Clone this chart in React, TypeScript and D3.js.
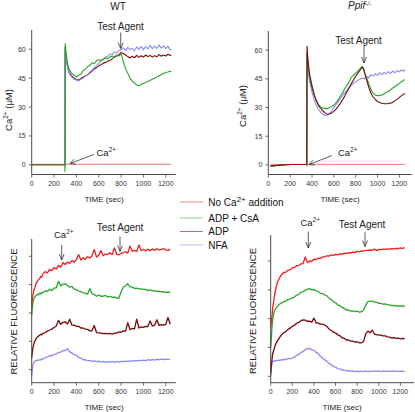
import React from 'react';
import * as d3 from 'd3';

type Pt = [number, number];

const FONT = "Arial, 'Liberation Sans', sans-serif";
const SERIES_NAMES = ['No Ca2+ addition', 'ADP + CsA', 'ADP', 'NFA'];
const SERIES_COLORS = ['#f01e1e', '#2aa52a', '#760808', '#8a8af2'];
const TIME_TICKS = [0, 200, 400, 600, 800, 1000, 1200];
const CA_TICKS = [0, 15, 30, 45, 60];
const FL_TICKS = [1, 2, 3, 4, 5];

// ---------- Top panels: Ca2+ (µM) vs time ----------
const WT_CA_RED: Pt[] = [[0, 0.3], [600, 0.3], [1250, 0.3]];
const WT_CA_GREEN: Pt[] = [[0, 0.1], [296, 0.1], [298, -3.5], [300, 63], [305, 60], [310, 57], [320, 53], [330, 50.5], [340, 49], [360, 47.5], [380, 46.5], [400, 45.5], [420, 46.5], [440, 47], [460, 49], [480, 49.5], [500, 51], [520, 51.5], [540, 53], [560, 52.5], [580, 54], [600, 54.5], [620, 54], [640, 55], [660, 55.5], [680, 55], [700, 56], [720, 56.5], [740, 56], [760, 57], [780, 56.5], [800, 57.5], [810, 56], [820, 53.5], [840, 50], [860, 47.5], [880, 45], [900, 43.5], [920, 42.5], [940, 41.5], [960, 41], [980, 41.8], [1000, 42.4], [1020, 42.8], [1040, 43.3], [1060, 43.8], [1080, 44.5], [1100, 45], [1120, 45.6], [1140, 46.2], [1160, 46.8], [1180, 47.4], [1200, 47.9], [1220, 48.2], [1240, 48.6], [1250, 48.4]];
const WT_CA_BROWN: Pt[] = [[0, 0.1], [296, 0.1], [298, 0], [300, 61], [305, 58], [310, 55], [320, 51.5], [330, 49], [340, 47.5], [360, 46], [380, 45], [400, 44.3], [420, 44], [440, 44.8], [460, 45.5], [480, 46.2], [500, 46.7], [520, 47.8], [540, 48.6], [560, 49.8], [580, 50.5], [600, 51.4], [620, 52], [640, 52.8], [660, 53.2], [680, 53.8], [700, 54.2], [720, 55], [740, 55.8], [760, 56.5], [780, 57.2], [800, 58.3], [820, 57.8], [840, 57], [860, 56.2], [880, 55.5], [900, 56.4], [920, 55.6], [940, 56.8], [960, 55.8], [980, 56.6], [1000, 56], [1020, 57], [1040, 56.2], [1060, 56.8], [1080, 55.9], [1100, 56.7], [1120, 56.1], [1140, 57.2], [1160, 56.4], [1180, 57], [1200, 56.5], [1220, 57.4], [1240, 56.8], [1250, 57]];
const WT_CA_BLUE: Pt[] = [[0, 0.1], [296, 0.1], [297, 0], [298, 60.5], [305, 57.5], [310, 55], [320, 51], [330, 48.5], [340, 47], [360, 45.5], [380, 44.5], [400, 44], [420, 43.5], [440, 44.5], [460, 45], [480, 46], [500, 46.7], [520, 48.2], [540, 49], [560, 50.5], [580, 51.5], [600, 52.7], [620, 54], [640, 54.6], [660, 56], [680, 56.3], [700, 57.5], [720, 57.2], [740, 58.6], [760, 58], [780, 59.4], [800, 59.7], [820, 60.8], [840, 59.3], [860, 61], [880, 59.8], [900, 60.6], [920, 59.2], [940, 61.2], [960, 60], [980, 61.5], [1000, 59.8], [1020, 61.4], [1040, 60.2], [1060, 62], [1080, 60.3], [1100, 61.6], [1120, 60.5], [1140, 62.2], [1160, 60.6], [1180, 61.8], [1200, 60.4], [1220, 61.5], [1240, 59.8], [1250, 59.7]];

const PPIF_CA_RED: Pt[] = [[20, 0.3], [600, 0.3], [1250, 0.3]];
const PPIF_CA_GREEN: Pt[] = [[20, -0.5], [200, 0.2], [352, 0.3], [354, -0.5], [355, 58], [360, 54], [370, 49], [380, 45], [400, 40], [420, 36.5], [440, 33.5], [460, 31.5], [480, 30.3], [500, 29.5], [520, 29.6], [540, 29.4], [560, 30], [580, 30.5], [600, 31.2], [620, 32.6], [640, 34.2], [660, 36], [680, 37.8], [700, 39.8], [720, 41.6], [740, 43.4], [760, 45.8], [780, 47], [800, 48], [820, 49], [840, 50.5], [860, 51.5], [870, 50.5], [880, 48.5], [900, 45.5], [920, 42.5], [940, 39.5], [960, 37.5], [980, 36.5], [1000, 36.2], [1020, 36.3], [1040, 36.6], [1060, 37.2], [1080, 37.8], [1100, 38.5], [1120, 39.3], [1140, 40.2], [1160, 41], [1180, 41.8], [1200, 42.6], [1220, 43.5], [1240, 44.3], [1250, 44.6]];
const PPIF_CA_BROWN: Pt[] = [[20, -0.6], [100, -0.1], [200, 0.2], [352, 0.3], [355, 62], [360, 57], [370, 51], [380, 47], [400, 41.5], [420, 37], [440, 33.5], [460, 31], [480, 29.5], [500, 28.2], [520, 27.2], [540, 26.5], [560, 26.6], [580, 27.2], [600, 28], [620, 29.2], [640, 30.6], [660, 32.2], [680, 34], [700, 36], [720, 38.2], [740, 40.2], [760, 42.5], [780, 44.4], [800, 46.5], [820, 48], [840, 49.5], [860, 51], [870, 50.5], [880, 48.5], [900, 44.5], [920, 40.5], [940, 37.5], [960, 35.5], [980, 34.2], [1000, 33.2], [1020, 32.6], [1040, 32.2], [1060, 32], [1080, 32], [1100, 32.1], [1120, 32.3], [1140, 32.8], [1160, 33.6], [1180, 34.4], [1200, 35.3], [1220, 36.2], [1240, 37], [1250, 37.3]];
const PPIF_CA_BLUE: Pt[] = [[20, -0.5], [200, 0.2], [352, 0.3], [355, 59], [360, 53], [370, 47], [380, 43], [400, 38], [420, 34], [440, 31], [460, 29], [480, 27.5], [500, 26.5], [520, 25.8], [540, 26], [560, 26.8], [580, 28.2], [600, 30], [620, 31.5], [640, 33.2], [660, 34.8], [680, 36.4], [700, 37.8], [720, 39], [740, 40.5], [760, 41.6], [780, 42.6], [800, 43.5], [820, 44.2], [840, 44.8], [860, 45.3], [880, 45], [900, 46.3], [920, 45.6], [940, 47.2], [960, 46.4], [980, 47.6], [1000, 46.8], [1020, 48.2], [1040, 47.2], [1060, 48.4], [1080, 47.6], [1100, 48.8], [1120, 47.8], [1140, 49], [1160, 48.2], [1180, 49.4], [1200, 48.6], [1220, 49.6], [1240, 49], [1250, 50]];

// ---------- Bottom panels: relative fluorescence vs time ----------
const FL_TIME = [0, 5, 10, 15, 20, 30, 40, 50, 60, 70, 80, 90, ...d3.range(100, 1260, 20)];

const WT_FL_RED = [3.27, 3.48, 3.62, 3.70, 3.82, 3.90, 4.06, 4.10, 4.18, 4.20, 4.29, 4.27,
  4.38, 4.46, 4.41, 4.54, 4.49, 4.60, 4.55, 4.68, 4.61, 4.78,
  4.71, 4.80, 4.75, 4.85, 4.79, 4.88, 5.06, 4.87, 4.95, 4.89,
  4.99, 4.94, 5.02, 5.24, 4.97, 5.04, 5.20, 5.02, 5.08, 5.06,
  5.12, 5.06, 5.30, 5.07, 5.05, 5.10, 5.13, 5.16, 5.11, 5.36,
  5.18, 5.21, 5.17, 5.40, 5.20, 5.24, 5.19, 5.25, 5.20, 5.26,
  5.21, 5.27, 5.22, 5.24, 5.27, 5.23, 5.21, 5.25];
const WT_FL_GREEN = [2.92, 3.15, 3.35, 3.45, 3.50, 3.58, 3.62, 3.66, 3.64, 3.70, 3.67, 3.73,
  3.71, 3.78, 3.76, 3.84, 3.79, 3.88, 3.89, 4.12, 3.95, 4.02,
  4.03, 3.97, 3.91, 3.94, 3.84, 3.82, 3.77, 3.76, 3.71, 3.70,
  3.66, 3.86, 3.67, 3.65, 3.59, 3.63, 3.59, 3.59, 3.62, 3.56,
  3.59, 3.55, 3.56, 3.53, 3.52, 3.74, 3.91, 3.96, 4.03, 3.92,
  3.91, 3.87, 3.88, 3.85, 3.85, 3.83, 3.83, 3.79, 3.82, 3.78,
  3.79, 3.76, 3.77, 3.74, 3.75, 3.72, 3.74, 3.72];
const WT_FL_BROWN = [1.41, 1.60, 1.75, 1.85, 1.92, 2.02, 2.10, 2.15, 2.18, 2.21, 2.25, 2.23,
  2.28, 2.31, 2.36, 2.39, 2.43, 2.49, 2.54, 2.74, 2.60, 2.67,
  2.69, 2.61, 2.78, 2.57, 2.57, 2.53, 2.53, 2.47, 2.47, 2.43,
  2.42, 2.37, 2.37, 2.56, 2.31, 2.30, 2.29, 2.27, 2.28, 2.26,
  2.28, 2.25, 2.29, 2.29, 2.33, 2.32, 2.37, 2.36, 2.66, 2.41,
  2.46, 2.44, 2.78, 2.47, 2.51, 2.49, 2.53, 2.52, 2.72, 2.54,
  2.57, 2.76, 2.56, 2.59, 2.57, 2.60, 2.84, 2.60];
const WT_FL_BLUE = [0.80, 1.02, 1.15, 1.22, 1.26, 1.30, 1.32, 1.34, 1.33, 1.35, 1.34, 1.38,
  1.37, 1.43, 1.44, 1.49, 1.49, 1.54, 1.55, 1.61, 1.62, 1.67,
  1.67, 1.74, 1.63, 1.59, 1.53, 1.51, 1.43, 1.41, 1.35, 1.35,
  1.32, 1.32, 1.29, 1.31, 1.28, 1.30, 1.27, 1.29, 1.26, 1.28,
  1.27, 1.29, 1.26, 1.29, 1.27, 1.29, 1.28, 1.30, 1.29, 1.31,
  1.30, 1.32, 1.31, 1.33, 1.32, 1.34, 1.32, 1.35, 1.33, 1.36,
  1.34, 1.36, 1.35, 1.37, 1.35, 1.37, 1.36, 1.36];

const PPIF_FL_RED = [2.70, 2.90, 3.02, 3.20, 3.42, 3.66, 3.90, 4.08, 4.24, 4.32, 4.40, 4.47,
  4.52, 4.60, 4.61, 4.68, 4.69, 4.77, 4.77, 4.84, 4.84, 4.90,
  4.91, 5.14, 4.94, 5.00, 4.99, 5.06, 5.05, 5.10, 5.09, 5.14,
  5.14, 5.18, 5.17, 5.21, 5.19, 5.23, 5.21, 5.25, 5.23, 5.27,
  5.26, 5.29, 5.27, 5.31, 5.29, 5.34, 5.31, 5.35, 5.34, 5.37,
  5.37, 5.38, 5.37, 5.41, 5.36, 5.40, 5.39, 5.41, 5.40, 5.42,
  5.41, 5.43, 5.42, 5.44, 5.43, 5.45, 5.44, 5.46];
const PPIF_FL_GREEN = [2.00, 2.30, 2.60, 2.85, 3.02, 3.20, 3.30, 3.37, 3.42, 3.46, 3.50, 3.52,
  3.54, 3.59, 3.61, 3.67, 3.68, 3.72, 3.75, 3.82, 3.84, 3.92,
  3.93, 3.99, 4.02, 4.04, 4.00, 4.01, 3.96, 3.94, 3.88, 3.87,
  3.82, 3.79, 3.71, 3.66, 3.59, 3.55, 3.48, 3.45, 3.39, 3.36,
  3.30, 3.30, 3.26, 3.27, 3.24, 3.26, 3.23, 3.24, 3.30, 3.48,
  3.59, 3.61, 3.61, 3.57, 3.57, 3.53, 3.53, 3.50, 3.51, 3.48,
  3.48, 3.45, 3.46, 3.44, 3.45, 3.43, 3.44, 3.43];
const PPIF_FL_BROWN = [1.10, 1.35, 1.52, 1.70, 1.82, 1.92, 2.05, 2.15, 2.21, 2.28, 2.33, 2.39,
  2.44, 2.51, 2.55, 2.63, 2.67, 2.74, 2.77, 2.84, 2.87, 2.93,
  2.96, 2.95, 2.91, 2.91, 2.88, 3.02, 2.85, 2.85, 2.81, 2.81,
  2.78, 2.73, 2.64, 2.59, 2.53, 2.51, 2.44, 2.41, 2.34, 2.32,
  2.26, 2.26, 2.22, 2.22, 2.19, 2.20, 2.16, 2.16, 2.22, 2.48,
  2.57, 2.51, 2.60, 2.46, 2.45, 2.43, 2.43, 2.40, 2.40, 2.37,
  2.36, 2.33, 2.34, 2.32, 2.33, 2.30, 2.32, 2.30];
const PPIF_FL_BLUE = [1.00, 1.25, 1.42, 1.50, 1.52, 1.54, 1.53, 1.55, 1.54, 1.56, 1.55, 1.57,
  1.56, 1.59, 1.58, 1.62, 1.61, 1.64, 1.66, 1.73, 1.76, 1.83,
  1.86, 1.93, 1.96, 1.97, 1.92, 1.90, 1.83, 1.79, 1.69, 1.64,
  1.57, 1.52, 1.44, 1.41, 1.34, 1.32, 1.27, 1.26, 1.22, 1.22,
  1.19, 1.20, 1.17, 1.19, 1.16, 1.18, 1.16, 1.18, 1.16, 1.19,
  1.16, 1.18, 1.16, 1.19, 1.17, 1.18, 1.16, 1.19, 1.17, 1.18,
  1.16, 1.18, 1.17, 1.19, 1.16, 1.18, 1.17, 1.18];

const zipFL = (vals: number[]): Pt[] => vals.map((v, i) => [FL_TIME[i], v]);

type PanelCfg = {
  left: number; right: number; top: number; bottom: number;
  xMax: number; yDom: [number, number];
  yTicks: number[]; yLabels: boolean;
  series: Pt[][]; order: number[];
  yLabel: React.ReactNode; yLabelX: number; yLabelY: number;
  xLabelX: number; xLabelY: number;
  redOpacity: number; strokeW: number;
};

const AXIS = '#4a4a4a';

function Sup({ base, sup, size }: { base: string; sup: string; size: number }) {
  return (
    <>
      <tspan>{base}</tspan>
      <tspan fontSize={size * 0.68} dy={-size * 0.42}>{sup}</tspan>
    </>
  );
}

function Panel({ cfg }: { cfg: PanelCfg }) {
  const x = d3.scaleLinear().domain([0, cfg.xMax]).range([cfg.left, cfg.right]);
  const y = d3.scaleLinear().domain(cfg.yDom).range([cfg.bottom, cfg.top]);
  const line = d3.line<Pt>().x((d) => x(d[0])).y((d) => y(d[1]));
  return (
    <g>
      {cfg.order.map((si) => (
        <path key={si} d={line(cfg.series[si]) || ''} fill="none" stroke={SERIES_COLORS[si]}
          strokeWidth={si === 0 && cfg.redOpacity < 1 ? 1 : cfg.strokeW}
          strokeOpacity={si === 0 ? cfg.redOpacity : 1} strokeLinejoin="round" />
      ))}
      <line x1={cfg.left} x2={cfg.left} y1={cfg.top} y2={cfg.bottom} stroke={AXIS} strokeWidth={1} />
      <line x1={cfg.left} x2={cfg.right} y1={cfg.bottom} y2={cfg.bottom} stroke={AXIS} strokeWidth={1} />
      {TIME_TICKS.map((t) => (
        <g key={t}>
          <line x1={x(t)} x2={x(t)} y1={cfg.bottom} y2={cfg.bottom + 3} stroke={AXIS} strokeWidth={0.8} />
          <text x={x(t)} y={cfg.bottom + 11} fontSize={7} textAnchor="middle" fill="#333" fontFamily={FONT}>{t}</text>
        </g>
      ))}
      {cfg.yTicks.map((v) => (
        <g key={v}>
          <line x1={cfg.left - 3} x2={cfg.left} y1={y(v)} y2={y(v)} stroke={AXIS} strokeWidth={0.8} />
          {cfg.yLabels && (
            <text x={cfg.left - 6} y={y(v) + 2.5} fontSize={7} textAnchor="end" fill="#333" fontFamily={FONT}>{v}</text>
          )}
        </g>
      ))}
      <text x={cfg.xLabelX} y={cfg.xLabelY} fontSize={8} textAnchor="middle" fill="#222" fontFamily={FONT}>TIME (sec)</text>
      <text transform={`translate(${cfg.yLabelX},${cfg.yLabelY}) rotate(-90)`} fontSize={9.5} textAnchor="middle" fill="#222" fontFamily={FONT}>
        {cfg.yLabel}
      </text>
    </g>
  );
}

function DownArrow({ x, y1, y2 }: { x: number; y1: number; y2: number }) {
  return (
    <path d={`M${x},${y1}L${x},${y2}M${x - 2.5},${y2 - 6}L${x},${y2}L${x + 2.5},${y2 - 6}`} fill="none" stroke="#333" strokeWidth={0.8} />
  );
}

function SlantArrow({ x1, y1, x2, y2 }: { x1: number; y1: number; y2: number; x2: number }) {
  const ang = Math.atan2(y1 - y2, x1 - x2);
  const L = 6, w = 0.45;
  const ax = x2 + L * Math.cos(ang + w), ay = y2 + L * Math.sin(ang + w);
  const bx = x2 + L * Math.cos(ang - w), by = y2 + L * Math.sin(ang - w);
  return (
    <path d={`M${x1},${y1}L${x2},${y2}M${ax},${ay}L${x2},${y2}L${bx},${by}`} fill="none" stroke="#333" strokeWidth={0.8} />
  );
}

const caLabel = (
  <>
    <Sup base="Ca" sup="2+" size={9.5} />
    <tspan dy={9.5 * 0.42}> (μM)</tspan>
  </>
);

export default function App() {
  const panels: PanelCfg[] = [
    {
      left: 31.7, right: 175.8, top: 30, bottom: 174.5, xMax: 1290, yDom: [-5, 70],
      yTicks: CA_TICKS, yLabels: true,
      series: [WT_CA_RED, WT_CA_GREEN, WT_CA_BROWN, WT_CA_BLUE], order: [2, 3, 1, 0],
      yLabel: caLabel, yLabelX: 12, yLabelY: 110, xLabelX: 104, xLabelY: 202, redOpacity: 0.6, strokeW: 1.1,
    },
    {
      left: 268.3, right: 411.7, top: 31, bottom: 174.5, xMax: 1313, yDom: [-5, 70],
      yTicks: CA_TICKS, yLabels: true,
      series: [PPIF_CA_RED, PPIF_CA_GREEN, PPIF_CA_BROWN, PPIF_CA_BLUE], order: [3, 1, 2, 0],
      yLabel: caLabel, yLabelX: 246, yLabelY: 106, xLabelX: 340, xLabelY: 202, redOpacity: 0.6, strokeW: 1.1,
    },
    {
      left: 31.7, right: 175.8, top: 239, bottom: 382.7, xMax: 1290, yDom: [0.54, 5.61],
      yTicks: FL_TICKS, yLabels: false,
      series: [WT_FL_RED, WT_FL_GREEN, WT_FL_BROWN, WT_FL_BLUE].map(zipFL), order: [3, 2, 1, 0],
      yLabel: 'RELATIVE FLUORESCENCE', yLabelX: 17, yLabelY: 311.5, xLabelX: 104, xLabelY: 410, redOpacity: 1, strokeW: 1.3,
    },
    {
      left: 270.7, right: 414, top: 235, bottom: 382.7, xMax: 1326, yDom: [0.78, 5.9],
      yTicks: FL_TICKS, yLabels: false,
      series: [PPIF_FL_RED, PPIF_FL_GREEN, PPIF_FL_BROWN, PPIF_FL_BLUE].map(zipFL), order: [3, 2, 1, 0],
      yLabel: 'RELATIVE FLUORESCENCE', yLabelX: 256, yLabelY: 311, xLabelX: 342, xLabelY: 410, redOpacity: 1, strokeW: 1.3,
    },
  ];

  const legendRows = [202, 218, 231.5, 245];

  return (
    <svg width={415} height={412} style={{ position: 'absolute', left: 0, top: 0, background: '#fff' }}
      fontFamily={FONT}>
      <rect x={0} y={0} width={415} height={412} fill="#fff" />
      {panels.map((p, i) => <Panel key={i} cfg={p} />)}

      {/* titles */}
      <text x={118} y={9.5} fontSize={10} textAnchor="middle" fill="#222">WT</text>
      <text x={348} y={9} fontSize={10} fill="#222" fontStyle="italic">
        Ppif<tspan fontSize={6.5} dy={-3.5}>-/-</tspan>
      </text>

      {/* top annotations */}
      <text x={120.5} y={30} fontSize={10} textAnchor="middle" fill="#222">Test Agent</text>
      <DownArrow x={120.7} y1={32.5} y2={48.5} />
      <text x={96.5} y={155.5} fontSize={9.5} fill="#222"><Sup base="Ca" sup="2+" size={9.5} /></text>
      <SlantArrow x1={94} y1={154.5} x2={70} y2={163.5} />

      <text x={358.5} y={44} fontSize={10} textAnchor="middle" fill="#222">Test Agent</text>
      <DownArrow x={364} y1={46} y2={63} />
      <text x={338} y={156} fontSize={9.5} fill="#222"><Sup base="Ca" sup="2+" size={9.5} /></text>
      <SlantArrow x1={332} y1={155.5} x2={309} y2={164.5} />

      {/* bottom annotations */}
      <text x={54} y={238} fontSize={9.5} fill="#222"><Sup base="Ca" sup="2+" size={9.5} /></text>
      <DownArrow x={61.7} y1={245} y2={260} />
      <text x={120} y={231} fontSize={10} textAnchor="middle" fill="#222">Test Agent</text>
      <DownArrow x={120} y1={236.5} y2={251.5} />

      <text x={300.5} y={226} fontSize={9.5} fill="#222"><Sup base="Ca" sup="2+" size={9.5} /></text>
      <DownArrow x={308.3} y1={231.5} y2={248} />
      <text x={362} y={228} fontSize={10} textAnchor="middle" fill="#222">Test Agent</text>
      <DownArrow x={365} y1={232.3} y2={246.5} />

      {/* legend */}
      {SERIES_NAMES.map((name, i) => (
        <g key={name}>
          <line x1={180} x2={203} y1={legendRows[i]} y2={legendRows[i]} stroke={SERIES_COLORS[i]} strokeWidth={0.8} strokeOpacity={0.7} />
          <text x={208.3} y={legendRows[i] + 3.6} fontSize={10} fill="#111">
            {i === 0 ? (
              <>
                <tspan>No Ca</tspan>
                <tspan fontSize={8} dy={-4}>2+</tspan>
                <tspan dy={4}> addition</tspan>
              </>
            ) : name}
          </text>
        </g>
      ))}
    </svg>
  );
}
